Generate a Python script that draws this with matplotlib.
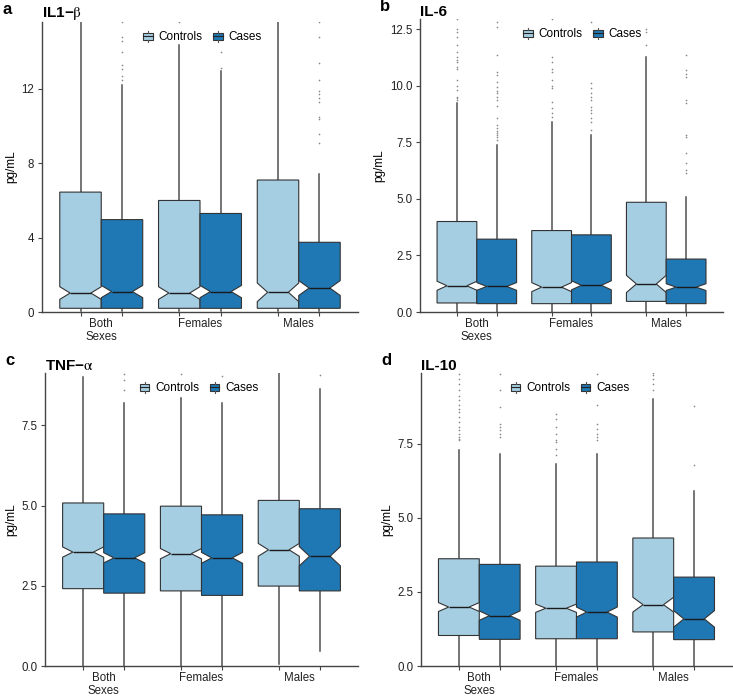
import matplotlib
matplotlib.use('Agg')
import matplotlib.pyplot as plt
from matplotlib.patches import Rectangle, Patch
from matplotlib.lines import Line2D
from matplotlib.legend_handler import HandlerBase

plt.rcParams['font.family'] = ['Liberation Sans', 'DejaVu Sans']
plt.rcParams['mathtext.fontset'] = 'stix'

groups = ['Both\nSexes', 'Females', 'Males']
series = ['Controls', 'Cases']
colors = ['#a6cee3', '#1f78b4']

# box order: Both-Ctrl, Both-Case, Fem-Ctrl, Fem-Case, Male-Ctrl, Male-Case
il1b_q1 = [0.2, 0.2, 0.2, 0.2, 0.2, 0.2]
il1b_med = [1.02, 1.10, 1.02, 1.10, 1.06, 1.29]
il1b_q3 = [6.45, 4.97, 6.0, 5.3, 7.1, 3.75]
il1b_lo = [0.05, 0.05, 0.05, 0.05, 0.05, 0.05]
il1b_hi = [18.0, 12.19, 14.34, 12.96, 18.0, 7.45]
il1b_ci = [0.34, 0.33, 0.34, 0.33, 0.5, 0.4]
il1b_fliers = [[], [15.6, 14.8, 14.6, 14.0, 13.3, 13.05, 12.7, 12.5],
               [15.6], [14.0, 13.1], [],
               [15.6, 14.8, 13.4, 12.5, 11.9, 11.7, 11.5, 11.3, 10.5, 10.4,
                9.55, 9.1]]

il6_q1 = [0.40, 0.37, 0.37, 0.37, 0.47, 0.37]
il6_med = [1.16, 1.13, 1.10, 1.18, 1.24, 1.10]
il6_q3 = [4.0, 3.22, 3.6, 3.41, 4.85, 2.34]
il6_lo = [0.02, 0.02, 0.02, 0.02, 0.02, 0.02]
il6_hi = [9.25, 7.38, 8.4, 7.84, 11.25, 5.07]
il6_ci = [0.2, 0.17, 0.2, 0.2, 0.38, 0.15]
il6_fliers = [[12.93, 12.49, 12.38, 12.16, 11.79, 11.5, 11.25, 11.16, 11.06,
               10.84, 10.76, 10.25, 9.99, 9.81, 9.51, 9.44, 9.37],
              [12.81, 12.6, 11.35, 10.62, 10.47, 10.18, 9.96, 9.78, 9.66,
               9.51, 9.37, 9.1, 8.56, 8.26, 8.12, 8.01, 7.9, 7.82, 7.75, 7.6],
              [12.93, 11.28, 11.06, 10.76, 10.62, 10.25, 9.99, 9.88, 9.29,
               9.0, 8.78, 8.63],
              [12.82, 10.1, 9.88, 9.66, 9.51, 9.37, 9.07, 8.93, 8.78, 8.56,
               8.41, 8.04],
              [12.49, 12.38, 11.79],
              [11.35, 10.69, 10.54, 10.37, 9.37, 9.22, 7.82, 7.75, 7.01, 6.57,
               6.28, 6.16]]

tnf_q1 = [2.41, 2.27, 2.34, 2.20, 2.49, 2.34]
tnf_med = [3.55, 3.37, 3.50, 3.37, 3.62, 3.42]
tnf_q3 = [5.08, 4.74, 4.98, 4.71, 5.16, 4.90]
tnf_lo = [0.0, 0.0, 0.0, 0.0, 0.07, 0.46]
tnf_hi = [9.0, 8.19, 8.36, 8.19, 12.0, 8.64]
tnf_ci = [0.16, 0.16, 0.16, 0.17, 0.2, 0.3]
tnf_fliers = [[], [9.1, 8.9, 8.6], [9.1], [9.05], [], [9.08]]

il10_q1 = [1.03, 0.90, 0.92, 0.92, 1.15, 0.89]
il10_med = [1.99, 1.70, 1.95, 1.82, 2.07, 1.59]
il10_q3 = [3.62, 3.43, 3.37, 3.51, 4.32, 3.0]
il10_lo = [0.0, 0.0, 0.0, 0.0, 0.0, 0.0]
il10_hi = [7.28, 7.17, 6.83, 7.17, 9.02, 5.91]
il10_ci = [0.15, 0.16, 0.14, 0.17, 0.25, 0.28]
il10_fliers = [[9.87, 9.70, 9.53, 9.30, 9.13, 8.97, 8.80, 8.68, 8.57, 8.40,
                8.23, 8.07, 7.95, 7.84, 7.73, 7.67, 7.62],
               [9.87, 9.30, 8.74, 8.18, 8.07, 7.95, 7.84, 7.73],
               [8.52, 8.35, 8.07, 7.84, 7.62, 7.56, 7.33, 7.11],
               [9.87, 8.80, 8.18, 8.01, 7.84, 7.73, 7.62],
               [9.89, 9.81, 9.70, 9.53, 9.30],
               [8.77, 6.77]]


class BoxKey(HandlerBase):
    def create_artists(self, legend, orig, xd, yd, w, h, fs, trans):
        cx = xd + w / 2
        bw = w * 0.95
        r = Rectangle((cx - bw / 2, yd + h * 0.05), bw, h * 0.9,
                      facecolor=orig.get_facecolor(), edgecolor='#333333',
                      lw=0.8, transform=trans)
        m = Line2D([cx - bw / 2, cx + bw / 2], [yd + h / 2] * 2,
                   color='#222222', lw=0.8, transform=trans)
        wt = Line2D([cx, cx], [yd + h * 0.95, yd + h * 1.2],
                    color='#555555', lw=0.8, transform=trans)
        wb = Line2D([cx, cx], [yd - h * 0.2, yd + h * 0.05],
                    color='#555555', lw=0.8, transform=trans)
        return [r, m, wt, wb]


def panel(ax, title, letter, q1, med, q3, lo, hi, ci, fliers, ylim, yticks,
          ytl, legx):
    stats = []
    for i in range(6):
        stats.append(dict(q1=q1[i], med=med[i], q3=q3[i], whislo=lo[i],
                          whishi=hi[i], cilo=med[i] - ci[i],
                          cihi=med[i] + ci[i], fliers=fliers[i]))
    pos = []
    for g in range(3):
        pos += [g + 1 - 0.21, g + 1 + 0.21]
    bp = ax.bxp(stats, positions=pos, widths=0.42, shownotches=True,
                patch_artist=True, showcaps=False,
                boxprops=dict(edgecolor='#333333', lw=0.8),
                whiskerprops=dict(color='#505050', lw=1.1),
                medianprops=dict(color='#1a1a1a', lw=1.0),
                flierprops=dict(marker='o', markersize=1.2,
                                markerfacecolor='#888888',
                                markeredgecolor='none'))
    for i, b in enumerate(bp['boxes']):
        b.set_facecolor(colors[i % 2])
    for w in bp['whiskers']:
        w.set_zorder(0.5)
    ax.set_xlim(0.4, 3.6)
    ax.set_ylim(*ylim)
    ax.set_yticks(yticks)
    ax.set_yticklabels(ytl, fontsize=8.3, color='#222222')
    ax.set_xticks(pos)
    ax.set_xticklabels([''] * 6)
    ax.set_xticks([1, 2, 3], minor=True)
    ax.set_xticklabels(groups, minor=True, fontsize=8.3, color='#222222',
                       linespacing=1.2)
    ax.tick_params(axis='x', which='minor', length=0, pad=4)
    ax.tick_params(axis='x', which='major', length=3, color='#444444')
    ax.tick_params(axis='y', length=3, color='#444444', pad=2.5)
    ax.set_ylabel('pg/mL', fontsize=8.5, labelpad=3)
    for s in ['top', 'right']:
        ax.spines[s].set_visible(False)
    for s in ['left', 'bottom']:
        ax.spines[s].set_color('#444444')
        ax.spines[s].set_linewidth(1.0)
    ax.set_title(title, loc='left', fontsize=11, fontweight='bold', pad=2,
                 x=0.0)
    handles = [Patch(facecolor=colors[0]), Patch(facecolor=colors[1])]
    ax.legend(handles, series, loc='upper center',
              bbox_to_anchor=(legx, 1.005), ncol=2, frameon=False,
              fontsize=8.5, handlelength=0.85, handleheight=0.65,
              handletextpad=0.45, columnspacing=0.9,
              handler_map={Patch: BoxKey()})
    ax.figure.text(ax.get_position().x0 - 0.054, ax.get_position().y1 + 0.012,
                   letter, fontsize=12, fontweight='bold')


fig = plt.figure(figsize=(7.33, 6.96), dpi=100)
ax_a = fig.add_axes([0.0573, 0.5517, 0.4311, 0.4167])
ax_b = fig.add_axes([0.573, 0.5517, 0.4134, 0.4210])
ax_c = fig.add_axes([0.0614, 0.0431, 0.4270, 0.4210])
ax_d = fig.add_axes([0.5743, 0.0431, 0.4243, 0.4210])

panel(ax_a, 'IL1−' + r'$\mathrm{\beta}$', 'a', il1b_q1, il1b_med, il1b_q3,
      il1b_lo, il1b_hi, il1b_ci, il1b_fliers, (0, 15.6), [0, 4, 8, 12],
      ['0', '4', '8', '12'], 0.508)
panel(ax_b, 'IL-6', 'b', il6_q1, il6_med, il6_q3, il6_lo, il6_hi, il6_ci,
      il6_fliers, (0, 12.95), [0, 2.5, 5, 7.5, 10, 12.5],
      ['0.0', '2.5', '5.0', '7.5', '10.0', '12.5'], 0.535)
panel(ax_c, 'TNF−' + r'$\mathrm{\alpha}$', 'c', tnf_q1, tnf_med, tnf_q3,
      tnf_lo, tnf_hi, tnf_ci, tnf_fliers, (0, 9.13), [0, 2.5, 5, 7.5],
      ['0.0', '2.5', '5.0', '7.5'], 0.492)
panel(ax_d, 'IL-10', 'd', il10_q1, il10_med, il10_q3, il10_lo, il10_hi,
      il10_ci, il10_fliers, (0, 9.89), [0, 2.5, 5, 7.5],
      ['0.0', '2.5', '5.0', '7.5'], 0.479)

fig.savefig('out.png', dpi=100)
